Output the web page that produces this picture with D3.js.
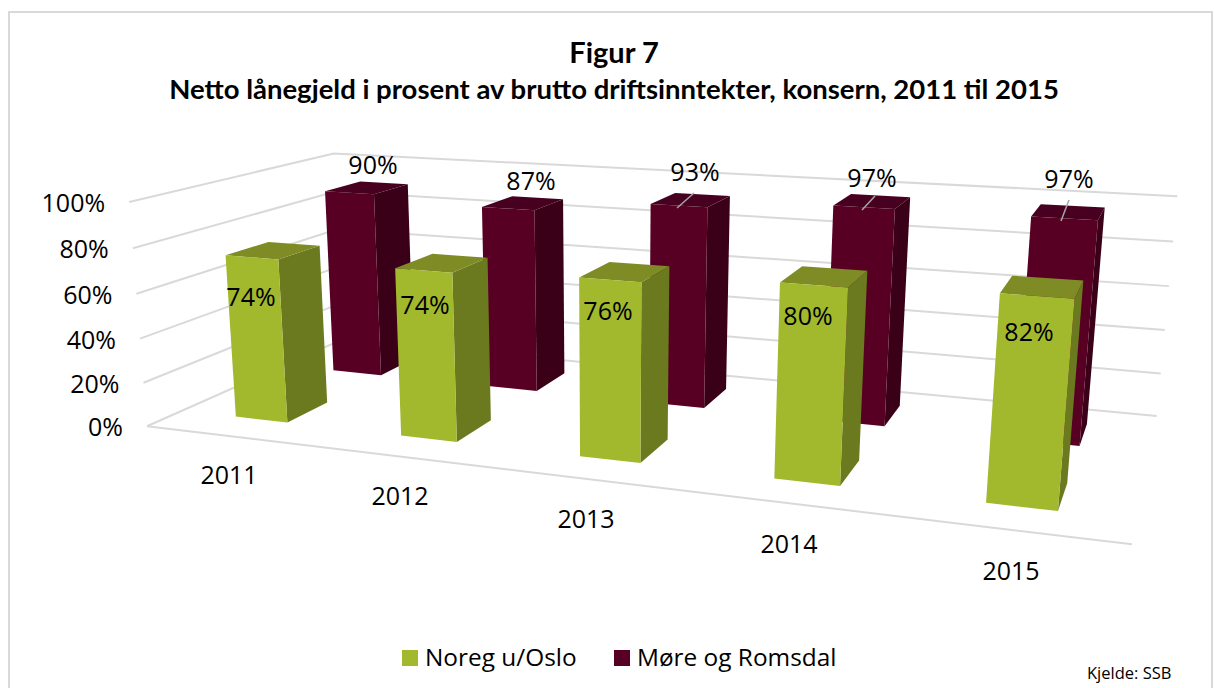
<!DOCTYPE html>
<html><head><meta charset="utf-8">
<script src="https://cdn.jsdelivr.net/npm/d3@7/dist/d3.min.js"></script>
<style>html,body{margin:0;padding:0;background:#fff}svg{display:block}</style></head>
<body><svg id="c" width="1214" height="688"></svg>
<script>
const categories = ["2011","2012","2013","2014","2015"];
const seriesNames = ["Noreg u/Oslo","Møre og Romsdal"];
const noregValues = [74,74,76,80,82];
const moreValues = [90,87,93,97,97];
const valueTicks = [0,20,40,60,80,100];

const W=1214,H=688;
const svg=d3.select("#c").attr("viewBox",[0,0,W,H]);
const FONT="'Open Sans',sans-serif";
const TITLE_FONT="Lato,sans-serif";

// camera calibration: cube corners [x,depth,height] -> screen
const calib=[
 [[0,0,0],[148,424]],[[0,0,1],[128,203]],[[0,1,0],[341,342]],[[0,1,1],[335,152]],
 [[1,1,0],[1157,414]],[[1,1,1],[1177,197]],[[1,0,0],[1132,546]]];
function solve(A,b){const n=b.length;const M=A.map((r,i)=>[...r,b[i]]);
 for(let i=0;i<n;i++){let p=i;for(let k=i+1;k<n;k++)if(Math.abs(M[k][i])>Math.abs(M[p][i]))p=k;
  [M[i],M[p]]=[M[p],M[i]];
  for(let k=0;k<n;k++){if(k===i)continue;const f=M[k][i]/M[i][i];for(let j=i;j<=n;j++)M[k][j]-=f*M[i][j];}}
 return M.map((r,i)=>r[n]/r[i]);}
const rows=[],rhs=[];
calib.forEach(([[x,y,z],[u,v]])=>{
 rows.push([x,y,z,1,0,0,0,0,-u*x,-u*y,-u*z]);rhs.push(u);
 rows.push([0,0,0,0,x,y,z,1,-v*x,-v*y,-v*z]);rhs.push(v);});
const AtA=d3.range(11).map(i=>d3.range(11).map(j=>d3.sum(rows,r=>r[i]*r[j])));
const Atb=d3.range(11).map(i=>d3.sum(rows,(r,k)=>r[i]*rhs[k]));
const P=solve(AtA,Atb);
function project(x,d,h){const w=P[8]*x+P[9]*d+P[10]*h+1;
 return [(P[0]*x+P[1]*d+P[2]*h+P[3])/w,(P[4]*x+P[5]*d+P[6]*h+P[7])/w];}

const xBand=d3.scaleBand().domain(categories).range([0,1]).paddingInner(0.68).paddingOuter(0.34);
const depthBand=d3.scaleBand().domain(seriesNames).range([0.0035,1.0135]).paddingInner(0.6).paddingOuter(0.3);
const hScale=d3.scaleLinear().domain([0,100]).range([0,1]);
const line=d3.line();

// chart frame
svg.append("rect").attr("x",9).attr("y",12).attr("width",1203).attr("height",690)
 .attr("fill","#fff").attr("stroke","#d9d9d9").attr("stroke-width",2);

// title
svg.append("text").attr("x",614).attr("y",63).attr("text-anchor","middle")
 .attr("font-family",TITLE_FONT).attr("font-weight",700).attr("font-size",29).attr("fill","#000").text("Figur 7");
svg.append("text").attr("x",614).attr("y",99).attr("text-anchor","middle")
 .attr("font-family",TITLE_FONT).attr("font-weight",700).attr("font-size",27.5).attr("fill","#000")
 .text("Netto lånegjeld i prosent av brutto driftsinntekter, konsern, 2011 til 2015");

// gridlines on the walls and the floor
const grid=svg.append("g").attr("fill","none").attr("stroke","#d9d9d9").attr("stroke-width",2);
valueTicks.forEach(t=>{const h=hScale(t);
 grid.append("path").attr("d",line([project(0,0,h),project(0,1,h),project(1,1,h)]));});
grid.append("path").attr("d",line([project(0,0,0),project(1,0,0)]));

// tick labels
svg.append("g").selectAll("text").data(valueTicks).join("text")
 .attr("x",t=>project(0,0,hScale(t))[0]-24).attr("y",t=>project(0,0,hScale(t))[1]+10)
 .attr("text-anchor","end").attr("font-family",FONT).attr("font-size",25).attr("fill","#000")
 .text(t=>t+"%");

// category labels
const yearLabelAt=[[229,475],[400,496],[586,519],[789,544],[1011,571]];
svg.append("g").selectAll("text").data(categories).join("text")
 .attr("x",(c,i)=>yearLabelAt[i][0]).attr("y",(c,i)=>yearLabelAt[i][1]+9)
 .attr("text-anchor","middle").attr("font-family",FONT).attr("font-size",25).attr("fill","#000")
 .text(c=>c);

const palette={
 [seriesNames[0]]:{front:"#a2b82d",side:"#6b7a1e",top:"#7f8c26"},
 [seriesNames[1]]:{front:"#570024",side:"#3a0018",top:"#470020"}};
function bar(g,cat,ser,val){
 const x0=xBand(cat),x1=x0+xBand.bandwidth(),d0=depthBand(ser),d1=d0+depthBand.bandwidth(),h=hScale(val),c=palette[ser];
 const face=(pts,fill)=>g.append("path").attr("d",line(pts)+"Z").attr("fill",fill);
 face([project(x1,d0,0),project(x1,d1,0),project(x1,d1,h),project(x1,d0,h)],c.side);
 face([project(x0,d0,h),project(x1,d0,h),project(x1,d1,h),project(x0,d1,h)],c.top);
 face([project(x0,d0,0),project(x1,d0,0),project(x1,d0,h),project(x0,d0,h)],c.front);
}
const bars=svg.append("g");
categories.forEach((c,i)=>bar(bars,c,seriesNames[1],moreValues[i]));
categories.forEach((c,i)=>bar(bars,c,seriesNames[0],noregValues[i]));

// data labels
const moreLabelAt=[[373,165],[531,181],[695,172],[872,178],[1069,179]];
const norLabelAt=[[251,297],[425,305],[608,311],[808,316],[1029,332]];
const leaders=[null,null,[[677,208],[694,193]],[[862,210],[875,196]],[[1061,221],[1069,200]]];
const lab=svg.append("g").attr("text-anchor","middle").attr("font-family",FONT).attr("font-size",25).attr("fill","#000");
leaders.forEach(l=>{if(l)svg.append("path").attr("d",line(l)).attr("stroke","#a6a6a6").attr("stroke-width",1.5).attr("fill","none");});
moreValues.forEach((v,i)=>lab.append("text").attr("x",moreLabelAt[i][0]).attr("y",moreLabelAt[i][1]+9).text(v+"%"));
noregValues.forEach((v,i)=>lab.append("text").attr("x",norLabelAt[i][0]).attr("y",norLabelAt[i][1]+9).text(v+"%"));

// legend
const legendX=[402,614],legendTextX=[425,637];
seriesNames.forEach((s,i)=>{
 svg.append("rect").attr("x",legendX[i]).attr("y",650).attr("width",16).attr("height",16).attr("fill",palette[s].front);
 svg.append("text").attr("x",legendTextX[i]).attr("y",666).attr("font-family",FONT).attr("font-size",24.4).attr("fill","#000").text(s);
});
svg.append("text").attr("x",1087).attr("y",679).attr("font-family",FONT).attr("font-size",16.5).attr("fill","#000").text("Kjelde: SSB");
</script></body></html>
